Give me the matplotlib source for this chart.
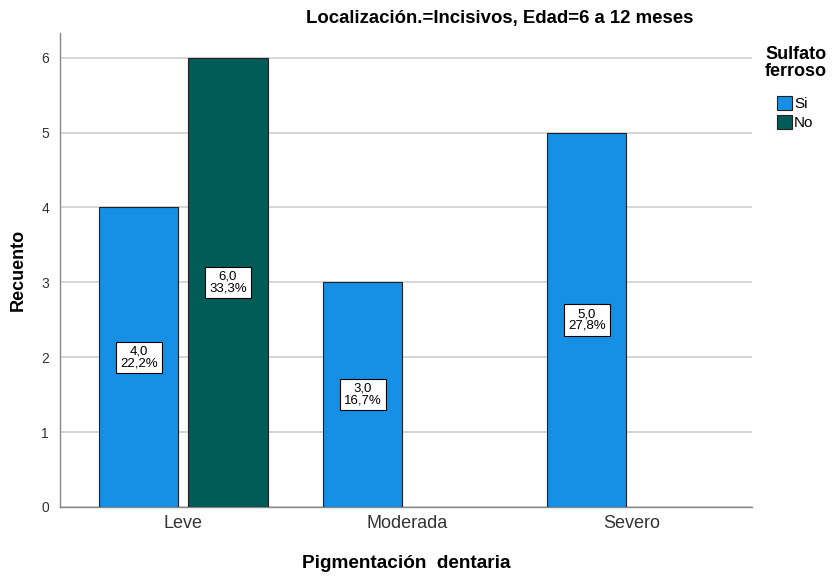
import matplotlib
matplotlib.use("Agg")
import matplotlib.pyplot as plt
from matplotlib.patches import Patch
import numpy as np

categories = ["Leve", "Moderada", "Severo"]
si_values = [4, 3, 5]
no_values = [6, 0, 0]
si_pct = ["22,2%", "16,7%", "27,8%"]
no_pct = ["33,3%", "", ""]
series_names = ["Si", "No"]
colors = ["#1690E6", "#015B57"]

plt.rcParams['font.family'] = ['Liberation Sans', 'DejaVu Sans']

fig = plt.figure(figsize=(8.32, 5.78), dpi=100)
ax = fig.add_axes([60/832, 1-507/578, 692/832, (507-33)/578])

x = np.arange(len(categories))
w = 0.353
off = 0.199

def draw(vals, pcts, pos, color):
    for xi, v, p in zip(pos, vals, pcts):
        if v <= 0:
            continue
        ax.bar(xi, v, width=w, color=color, edgecolor="#222222", linewidth=0.8, zorder=3)
        ax.text(xi, v/2, f"{v:.1f}".replace(".", ",") + "\n" + p, ha="center", va="center",
                fontsize=9.5, linespacing=0.95, zorder=4,
                bbox=dict(boxstyle="square,pad=0.3", fc="white", ec="black", lw=0.8))

si_pos = [x[0]-off, x[1]-off, x[2]-off]
no_pos = [x[0]+off, x[1]+off, x[2]+off]
draw(si_values, si_pct, si_pos, colors[0])
draw(no_values, no_pct, no_pos, colors[1])

ax.set_xlim(-0.551, 2.538)
ax.set_ylim(0, 6.33)
ax.set_yticks(range(0, 7))
ax.set_xticks(x)
ax.set_xticklabels(categories, fontsize=13, color="#333333")
ax.tick_params(axis="y", length=0, labelsize=10, pad=8, colors="#333333")
ax.tick_params(axis="x", length=0, pad=6)
ax.grid(axis="y", color="#d0d0d0", linewidth=1.2, zorder=0)
ax.set_axisbelow(True)
for s in ["top", "right"]:
    ax.spines[s].set_visible(False)
for s in ["left", "bottom"]:
    ax.spines[s].set_color("#888888")
    ax.spines[s].set_linewidth(1.0)

ax.set_ylabel("Recuento", fontsize=13, fontweight="bold", labelpad=10)
ax.set_xlabel("Pigmentación  dentaria", fontsize=13.7, fontweight="bold", labelpad=16)

fig.text(500/832, 1-18/578, "Localización.=Incisivos, Edad=6 a 12 meses",
         ha="center", va="center", fontsize=13.4, fontweight="bold")

fig.text(796/832, 1-63/578, "Sulfato\nferroso", ha="center", va="center",
         fontsize=13, fontweight="bold", linespacing=0.95)

handles = [Patch(facecolor=c, edgecolor="#222222", linewidth=0.8) for c in colors]
leg = fig.legend(handles, series_names, loc="upper left",
                 bbox_to_anchor=(771/832, 1-90/578), frameon=False, fontsize=11,
                 handlelength=0.95, handleheight=1.0, handletextpad=0.15, labelspacing=0.25,
                 borderaxespad=0)

fig.savefig("out.png", dpi=100)
